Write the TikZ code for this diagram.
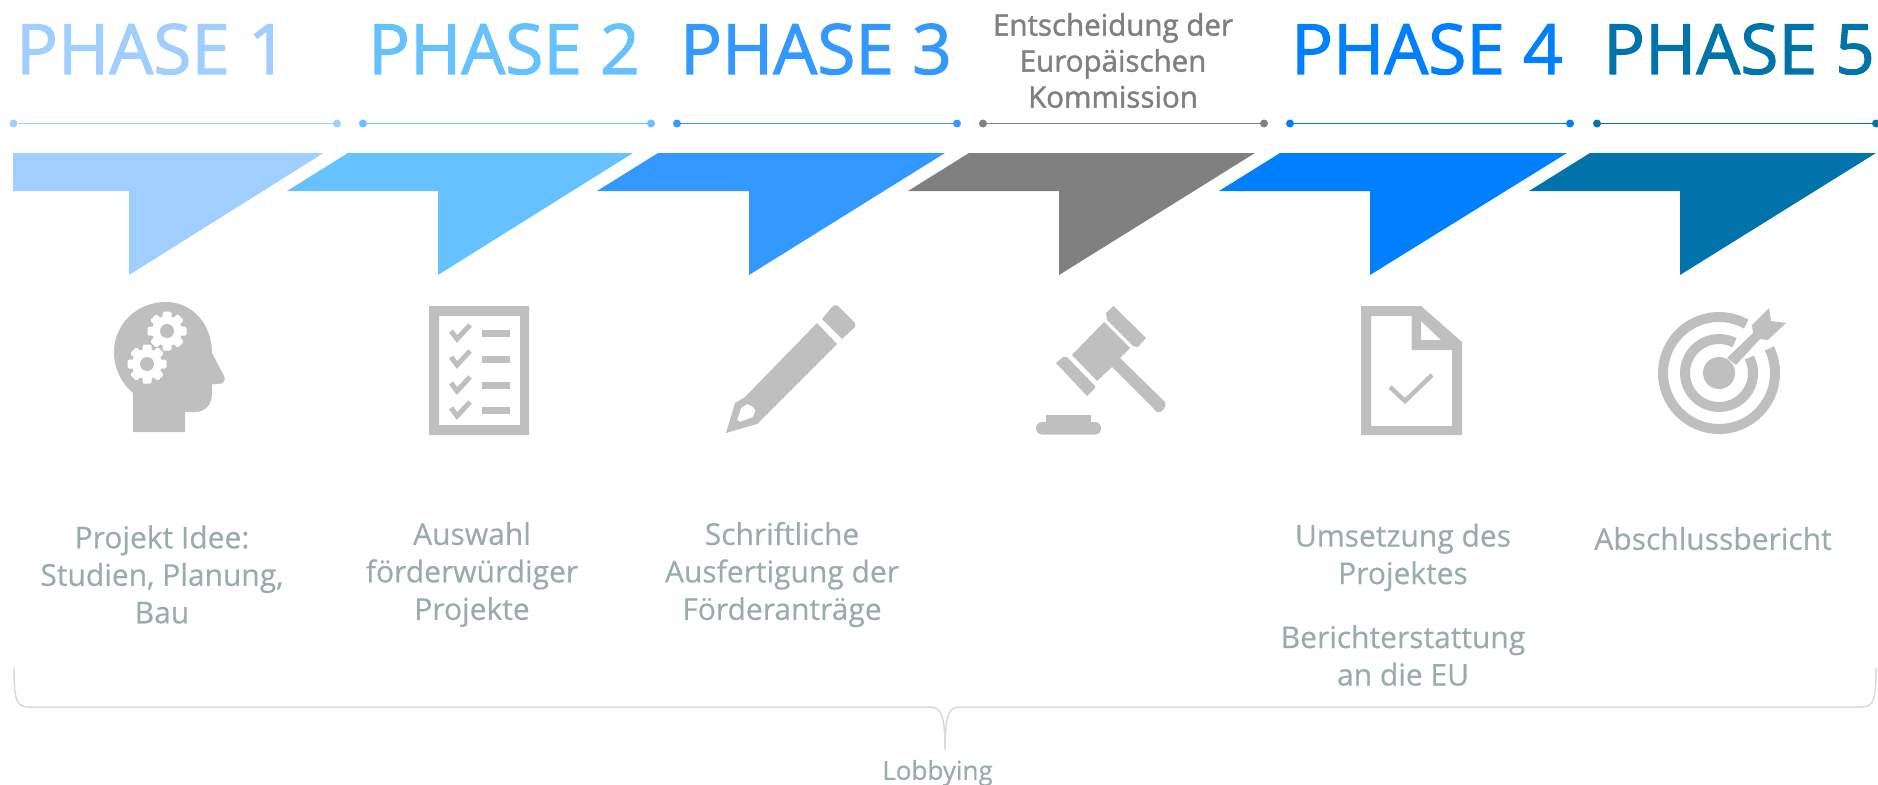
\documentclass[tikz,border=0pt]{standalone}
\usepackage{fontspec}
\setmainfont{Open Sans}
\newfontfamily\titlefont[FakeBold=1.6]{Open Sans}
\newfontfamily\stepfont[FakeBold=0.4]{Open Sans}
\definecolor{phaseA}{HTML}{A0CFFF}
\definecolor{phaseB}{HTML}{66C2FF}
\definecolor{phaseC}{HTML}{3399FF}
\definecolor{phaseD}{HTML}{808080}
\definecolor{phaseE}{HTML}{0080FF}
\definecolor{phaseF}{HTML}{0073AB}
\definecolor{bodytext}{HTML}{9AABAB}
\definecolor{iconfill}{HTML}{BFBFBF}
\definecolor{bracecol}{HTML}{D9D9D9}
\tikzset{
  phasetitle/.style={anchor=base,inner sep=0pt,font=\titlefont\fontsize{69.5}{69.5}\selectfont},
  steptext/.style={align=center,inner sep=0pt,text=bodytext,font=\stepfont\fontsize{30}{37.5}\selectfont},
  enddot/.style={circle,inner sep=0pt,minimum size=8pt},
  icon/.style={fill=iconfill,draw=none},
  iconline/.style={draw=iconfill,line width=5pt},
  gearpic/.pic={
    \fill[white] (0,0) circle[radius=15];
    \foreach \a in {0,45,...,315}
      \fill[white,rotate=\a,rounded corners=1.5pt] (-4.5,-19.5) rectangle (4.5,-12);
    \fill[iconfill] (0,0) circle[radius=7];
  }
}

\begin{document}
\begin{tikzpicture}[x=1pt,y=-1pt]
    \useasboundingbox (0,0) rectangle (1878,784);

    % titles
    \node[phasetitle,text=phaseA] (title1) at (152,74) {PHASE 1};
    \node[phasetitle,text=phaseB] (title2) at (504,74) {PHASE 2};
    \node[phasetitle,text=phaseC] (title3) at (816,74) {PHASE 3};
    \node[align=center,inner sep=0pt,text=phaseD,font=\titlefont\fontsize{29.5}{36}\selectfont] (title4) at (1113,60.5) {Entscheidung der\\Europäischen\\Kommission};
    \node[phasetitle,text=phaseE] (title5) at (1427,74) {PHASE 4};
    \node[phasetitle,text=phaseF] (title6) at (1739,74) {PHASE 5};

    % lines with dots
    \foreach \n/\c/\xa/\xb in {1/phaseA/13.5/337,2/phaseB/363/651,3/phaseC/677/957,4/phaseD/983/1264,5/phaseE/1290/1570,6/phaseF/1597/1876}{
      \node[enddot,fill=\c] (start\n) at (\xa,123.5) {};
      \node[enddot,fill=\c] (end\n) at (\xb,123.5) {};
      \draw[\c,line width=1.5pt] (start\n) -- (end\n);
    }

    % pointers
    \fill[phaseA] (13,153) -- (323.5,153) -- (129,275) -- (129,191) -- (13,191) -- cycle;
    \foreach \c/\xa/\xb/\xc/\xd in {phaseB/287/348/438/633,phaseC/597/658/749/945,phaseD/908/969/1059/1255,phaseE/1219/1280/1370/1567,phaseF/1529/1590/1680/1876}
      \fill[\c] (\xa,191) -- (\xb,153) -- (\xd,153) -- (\xc,275) -- (\xc,191) -- cycle;

    % head
    \fill[icon] (166,302) .. controls (136,302) and (114,325) .. (114,352)
      .. controls (114,368) and (121,383) .. (133,393) -- (133,432) -- (185,432) -- (185,412) -- (195,412)
      .. controls (206,412) and (212,404) .. (212,393) -- (212,384) -- (218,384)
      .. controls (224,384) and (226,380) .. (224,376) -- (212,353)
      .. controls (212,325) and (193,302) .. (166,302) -- cycle;
    \pic at (167,331) {gearpic};
    \pic at (147,364) {gearpic};

    % list
    \fill[icon,even odd rule] (429,306) rectangle (529,435) (439,316) rectangle (520,425);
    \foreach \r in {0,26,52,77}{
      \draw[iconline] (451,331+\r) -- (457,339+\r) -- (470,325+\r);
      \fill[icon] (482,330+\r) rectangle (510,337+\r);
    }

    % pencil
    \fill[icon,even odd rule] (726,433) -- (735,403) -- (745,397) -- (817,323) -- (837,344) -- (757,424) -- cycle
      (741,408) -- (747,404) .. controls (752,405) and (757,410) .. (755,412) -- (753,417) -- (740,422) -- (737,420) -- cycle;
    \fill[icon] (822,319) -- (832,307) .. controls (834,305) and (836,304) .. (838,306) -- (855,323) -- (855,327) -- (842,339) -- cycle;

    % gavel
    \fill[icon] (1104,322) -- (1130,348) -- (1120,358) -- (1165,402) .. controls (1168,406) and (1161,414) .. (1157,412)
      .. controls (1156,412) and (1155,410) .. (1153,408) -- (1112,367) -- (1097,381) -- (1072,355) -- cycle;
    \fill[icon] (1113.5,306) -- (1146,338) -- (1138,347) -- (1133,346) -- (1107,320) -- (1106,313) -- cycle;
    \fill[icon] (1063,357) -- (1067,357) -- (1095,386) -- (1095,388) -- (1087,396) -- (1056,363) -- cycle;
    \fill[icon] (1046,415) rectangle (1091,423);
    \fill[icon,rounded corners=6pt] (1036,422) rectangle (1101,434.5);

    % document
    \fill[icon,even odd rule] (1361,306) -- (1421,306) -- (1462,342) -- (1462,435) -- (1361,435) -- cycle
      (1371,316) -- (1411.5,316) -- (1411.5,350) -- (1452,350) -- (1452,426) -- (1371,426) -- cycle
      (1421,321) -- (1441,340) -- (1421,340) -- cycle;
    \draw[iconline,line width=4.5pt] (1390,387) -- (1405,401) -- (1432,375);

    % target
    \begin{scope}[shift={(1719,373)}]
      \draw[iconline,line width=10pt] (61:56pt) arc[start angle=61,end angle=386,radius=56pt];
      \draw[iconline,line width=10pt] (63:34pt) arc[start angle=63,end angle=387,radius=34pt];
      \fill[icon] (0,0) circle[radius=16];
    \end{scope}
    \fill[icon] (1727,358) -- (1753,333) -- (1752,325) -- (1769,308) -- (1771,321) -- (1786,323) -- (1768,340) -- (1760,339) -- (1736,365) -- cycle;

    % step texts
    \node[steptext] (idea) at (162,574.5) {Projekt Idee:\\Studien, Planung,\\Bau};
    \node[steptext] (select) at (472,574.5) {Auswahl\\förderwürdiger\\Projekte};
    \node[steptext] (write) at (782,574.5) {Schriftliche\\Ausfertigung der\\Förderanträge};
    \node[steptext] (realise) at (1403,557.5) {Umsetzung des\\Projektes};
    \node[steptext] (report) at (1403,655.5) {Berichterstattung\\an die EU};
    \node[steptext] (final) at (1713,538.5) {Abschlussbericht};

    % brace
    \draw[bracecol,line width=1.5pt] (14,668) .. controls (14,698) and (16,707) .. (28,707) -- (930,707)
      .. controls (940,707) and (945,712) .. (945,750)
      .. controls (945,712) and (950,707) .. (960,707) -- (1862,707)
      .. controls (1874,707) and (1876,698) .. (1876,668);
    \node[inner sep=0pt,text=bodytext,font=\stepfont\fontsize{26}{26}\selectfont] (lobby) at (937.5,773) {Lobbying};
\end{tikzpicture}
\end{document}
